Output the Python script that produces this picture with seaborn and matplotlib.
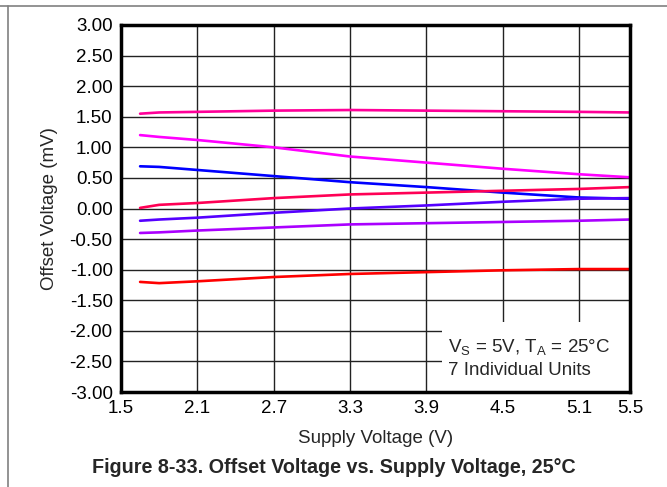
import numpy as np
import pandas as pd
import matplotlib
matplotlib.use("Agg")
import matplotlib.pyplot as plt
import seaborn as sns

# supply voltage points (V)
vsupply = [1.65, 1.8, 2.1, 2.7, 3.3, 3.9, 4.5, 5.1, 5.5]

# offset voltage (mV) for 7 individual units
unit1 = [1.55, 1.57, 1.58, 1.60, 1.61, 1.60, 1.59, 1.58, 1.57]
unit2 = [1.20, 1.17, 1.12, 1.00, 0.85, 0.75, 0.65, 0.56, 0.51]
unit3 = [0.69, 0.68, 0.63, 0.53, 0.43, 0.35, 0.26, 0.18, 0.16]
unit4 = [0.01, 0.06, 0.09, 0.17, 0.23, 0.26, 0.29, 0.32, 0.35]
unit5 = [-0.20, -0.18, -0.15, -0.07, 0.00, 0.05, 0.11, 0.16, 0.17]
unit6 = [-0.40, -0.39, -0.36, -0.31, -0.26, -0.24, -0.22, -0.20, -0.18]
unit7 = [-1.20, -1.22, -1.19, -1.12, -1.07, -1.04, -1.01, -0.99, -0.99]

units = [unit1, unit2, unit3, unit4, unit5, unit6, unit7]
colors = ["#FF0099", "#FF00FF", "#0000FF", "#FF0055", "#5500FF", "#AA00FF", "#FF0000"]

xticks = [1.5, 2.1, 2.7, 3.3, 3.9, 4.5, 5.1, 5.5]
yticks = np.arange(-3.0, 3.01, 0.5)

rows = []
for i, u in enumerate(units):
    for v, off in zip(vsupply, u):
        rows.append({"unit": f"U{i+1}", "vs": v, "vos": off})
df = pd.DataFrame(rows)

sns.set_style("white")
plt.rcParams["font.family"] = ["Liberation Sans", "DejaVu Sans"]
fs = 13.5

fig = plt.figure(figsize=(6.67, 4.87), dpi=100)
ax = fig.add_axes([0.1814, 0.195, 0.7631, 0.7537])

sns.lineplot(data=df, x="vs", y="vos", hue="unit", palette=colors,
             linewidth=1.9, legend=False, ax=ax, zorder=3)

ax.set_xlim(1.5, 5.5)
ax.set_ylim(-3.0, 3.0)
ax.set_xticks(xticks)
ax.set_xticklabels([f"{t:.1f}" for t in xticks])
ax.set_yticks(yticks)
ax.set_yticklabels([f"{t:.2f}" for t in yticks])
ax.tick_params(length=0, labelsize=fs, pad=6, colors="black")
ax.grid(True, color="#222222", linewidth=1.0)
for s in ax.spines.values():
    s.set_linewidth(2.5)
    s.set_color("black")
    s.set_zorder(5)

ax.set_xlabel("Supply Voltage (V)", fontsize=fs, labelpad=9)
ax.set_ylabel("Offset Voltage (mV)", fontsize=fs, labelpad=8)

# annotation box
ax.add_patch(plt.Rectangle((4.02, -3.0), 1.48, 1.145, facecolor="white",
                           edgecolor="none", zorder=2.5))
ax.text(4.07, -2.28, "V$_\\mathregular{S}$ = 5V, T$_\\mathregular{A}$ = 25°C",
        fontsize=fs, va="center", ha="left", zorder=4)
ax.text(4.07, -2.64, "7 Individual Units", fontsize=fs, va="center",
        ha="left", zorder=4)

fig.text(0.5, 0.041, "Figure 8-33. Offset Voltage vs. Supply Voltage, 25°C",
         fontsize=14.2, fontweight="bold", ha="center", va="center")

# panel border lines
fig.add_artist(plt.Line2D([0, 1], [1 - 6 / 487, 1 - 6 / 487], color="#808080",
                          linewidth=1.2, transform=fig.transFigure))
fig.add_artist(plt.Line2D([8 / 667, 8 / 667], [0, 1 - 6 / 487], color="#808080",
                          linewidth=1.2, transform=fig.transFigure))

fig.savefig("out.png", dpi=100)
